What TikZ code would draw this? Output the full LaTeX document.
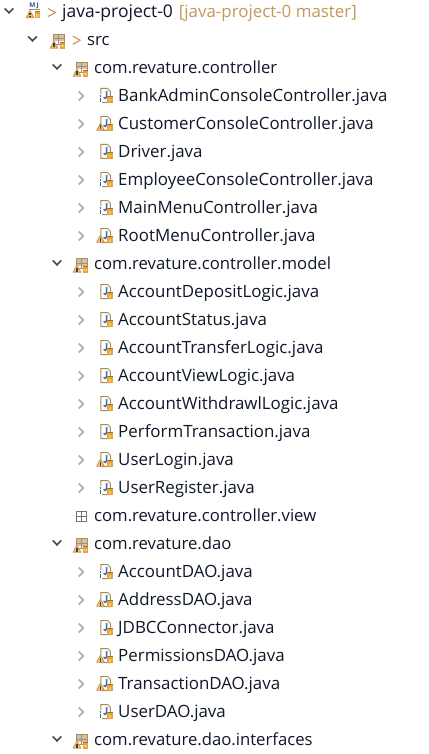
\documentclass[tikz,border=0pt]{standalone}
\usepackage{fontspec}
\setmainfont{Open Sans}
\definecolor{txt}{HTML}{101828}
\definecolor{tan1}{HTML}{C8975A}
\definecolor{tan2}{HTML}{A98B55}
\definecolor{jblue}{HTML}{3C6FB0}
\definecolor{orng}{HTML}{E8A33D}
\definecolor{ylw}{HTML}{F5C96A}
\definecolor{chevg}{HTML}{A9A9A9}
\definecolor{chevd}{HTML}{4A4A4A}
\definecolor{pkgb}{HTML}{B08A60}
\tikzset{
  x=1pt,y=-1pt,
  label/.style={anchor=west,inner sep=0pt,text=txt,font=\fontsize{16.7}{20}\selectfont,text height=12pt,text depth=3.5pt},
  filelabel/.style={label,font=\fontsize{16.9}{20}\selectfont},
  rootlabel/.style={label,font=\fontsize{17.5}{20}\selectfont},
  gitlabel/.style={label,text=tan1,font=\fontsize{16.9}{20}\selectfont},
  openchev/.style={draw=chevd,line width=1.7pt},
  closedchev/.style={draw=chevg,line width=1.7pt},
  decor/.style={draw=tan1,line width=1.1pt},
}
\newcommand{\chevopen}[2]{\draw[openchev] (#1-4.3,#2-3.6) -- (#1,#2+.8) -- (#1+4.3,#2-3.6);}
\newcommand{\chevclosed}[2]{\draw[closedchev] (#1-2.2,#2-4.5) -- (#1+2.2,#2) -- (#1-2.2,#2+4.5);}
\newcommand{\lockicon}[2]{%
  \fill[orng] (#1-2.6,#2-2.8) rectangle (#1+2.6,#2+3);
  \fill[ylw] (#1-1.4,#2-1) rectangle (#1+1.4,#2+1.7);
  \draw[orng!70!black,line width=.5pt] (#1-2.6,#2-3.4) -- (#1+2.6,#2-3.4);}
\newcommand{\warnicon}[2]{%
  \fill[ylw,draw=tan1,line width=.9pt,line join=round] (#1-3.8,#2+3.2) -- (#1,#2-3.8) -- (#1+3.8,#2+3.2) -- cycle;
  \fill[black!75] (#1-.6,#2-1.5) rectangle (#1+.6,#2+.8);
  \fill[black!75] (#1-.6,#2+1.4) rectangle (#1+.6,#2+2.5);}
\newcommand{\infoicon}[2]{%
  \fill[white] (#1-1.8,#2-4.6) rectangle (#1+1.8,#2+3.6);
  \fill[jblue!85!black] (#1-.8,#2-3.6) rectangle (#1+.8,#2-2.4);
  \fill[jblue!85!black] (#1-.8,#2-1.2) rectangle (#1+.8,#2+3);}
\newcommand{\fileicon}[3]{% x-left of page, y centre, kind
  \fill[white] (#1,#2-8) rectangle (#1+10.5,#2+7);
  \draw[tan2,line width=1pt] (#1+.8,#2+6.5) -- (#1+.8,#2-7.5) -- (#1+7.5,#2-7.5) -- (#1+10.3,#2-4.7) -- (#1+10.3,#2+6.5) -- cycle;
  \draw[jblue,line width=1.5pt] (#1+6.6,#2-5) -- (#1+6.6,#2+.8) .. controls (#1+6.6,#2+2.8) and (#1+4.3,#2+2.8) .. (#1+3.6,#2+1.3);
  \lockicon{#1+10}{#2+3.8}
  \ifnum#3=1 \warnicon{#1+.5}{#2+3}\fi
  \ifnum#3=2 \infoicon{#1+.6}{#2+3}\fi}
\newcommand{\pkgicon}[2]{% x-left, y centre
  \fill[pkgb!55] (#1+6,#2-6.5) rectangle (#1+17,#2+.5);
  \draw[pkgb,line width=1pt] (#1+6,#2-6.5) rectangle (#1+17,#2+3.5);
  \draw[pkgb,line width=1pt] (#1+6,#2-2) -- (#1+17,#2-2) (#1+11.5,#2-6.5) -- (#1+11.5,#2+3.5);
  \lockicon{#1+15.5}{#2+4.6}
  \warnicon{#1+7}{#2+4}}
\begin{document}
\begin{tikzpicture}
\useasboundingbox (0,0) rectangle (430,754);
\fill[white] (0,0) rectangle (430,754);
\draw[black!18,line width=1pt] (429.5,0) -- (429.5,754);

% project row
\chevopen{9}{12}
\node[inner sep=0pt,text=jblue!80!black,font=\fontsize{6.5}{7}\bfseries\selectfont] (mj) at (34,5.5) {M\,J};
\draw[tan2,line width=1pt] (29,9.5) -- (40,9.5);
\lockicon{37.5}{15}
\warnicon{30}{14.5}
\draw[decor] (48,8.5) -- (55.5,12.5) -- (48,16.5);
\node[rootlabel] (project) at (62,13.5) {java-project-0};
\node[gitlabel,anchor=west] (branch) at ([xshift=5.5pt]project.east) {[java-project-0 master]};

% src row
\chevopen{32.5}{40}
\pkgicon{47}{41}
\draw[decor] (72.8,36) -- (80,40.2) -- (72.8,44.4);
\node[label] (src) at (87,41.5) {src};

% com.revature.controller
\chevopen{57}{68}
\pkgicon{70}{69}
\node[label] (pkga) at (94,69.5) {com.revature.controller};

\foreach \y/\k/\n in {96/2/BankAdminConsoleController,124/1/CustomerConsoleController,152/0/Driver,180/2/EmployeeConsoleController,208/2/MainMenuController,236/1/RootMenuController,
 292/0/AccountDepositLogic,320/0/AccountStatus,348/0/AccountTransferLogic,376/0/AccountViewLogic,404/0/AccountWithdrawlLogic,432/0/PerformTransaction,460/1/UserLogin,488/2/UserRegister,
 572/2/AccountDAO,600/1/AddressDAO,628/0/JDBCConnector,656/1/PermissionsDAO,684/1/TransactionDAO,712/2/UserDAO}{
  \chevclosed{81}{\y}
  \fileicon{100}{\y}{\k}
  \node[filelabel] (file-\y) at (118,\y+1.5) {\n.java};
}

% com.revature.controller.model
\chevopen{57}{264}
\pkgicon{70}{265}
\node[label] (pkgb) at (94,265.5) {com.revature.controller.model};

% com.revature.controller.view (empty package)
\draw[black!55,line width=1pt] (76.5,511) rectangle (86.5,521);
\draw[black!55,line width=1pt] (76.5,516) -- (86.5,516) (81.5,511) -- (81.5,521);
\node[label] (pkgc) at (94,517.5) {com.revature.controller.view};

% com.revature.dao
\chevopen{57}{544}
\pkgicon{70}{545}
\node[label] (pkgd) at (94,545.5) {com.revature.dao};

% com.revature.dao.interfaces
\chevopen{57}{740}
\pkgicon{70}{741}
\node[label] (pkge) at (94,741.5) {com.revature.dao.interfaces};
\end{tikzpicture}
\end{document}
